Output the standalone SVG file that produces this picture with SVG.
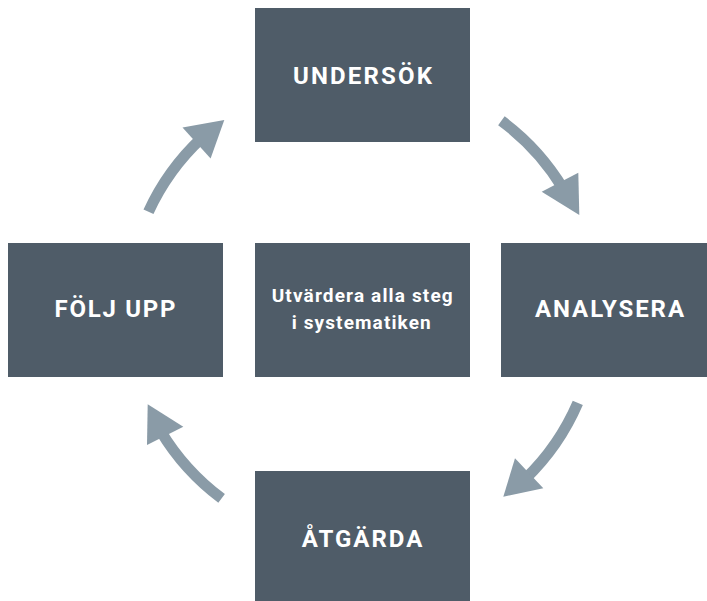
<svg xmlns="http://www.w3.org/2000/svg" width="707" height="601" viewBox="0 0 707 601">
<style>
.box{fill:#4f5c68}
.lbl{fill:#ffffff;font-family:Roboto,"Liberation Sans",sans-serif;font-weight:bold;font-size:24px;text-anchor:middle}
.sm{font-size:19px}
.shaft{fill:none;stroke:#8a9ba7;stroke-width:11}
.head{fill:#8a9ba7}
</style>
<rect width="707" height="601" fill="#ffffff"/>
<g id="connectors">
<path class="shaft" d="M148.5,211.8 A235,235 0 0,1 201.7,138.1"/>
<polygon class="head" points="224.3,120 182.5,127.5 210.6,158.6"/>
<path class="shaft" d="M501.4,120.8 A235,235 0 0,1 563.4,189"/>
<polygon class="head" points="579.3,215 541.7,191.7 578.3,172.7"/>
<path class="shaft" d="M577.8,402.9 A235,235 0 0,1 525.2,479"/>
<polygon class="head" points="503.3,496.7 515,458.3 543.3,488.3"/>
<path class="shaft" d="M221.6,498.4 A235,235 0 0,1 160.6,431"/>
<polygon class="head" points="147.7,404.3 183.3,426.7 147,445"/>
</g>
<g id="undersok">
<rect class="box" x="255" y="8" width="215" height="134"/>
<text class="lbl" x="362.5" y="84" textLength="139" lengthAdjust="spacing">UNDERSÖK</text>
</g>
<g id="folj-upp">
<rect class="box" x="8" y="243" width="215" height="134"/>
<text class="lbl" x="115" y="317" textLength="121" lengthAdjust="spacing">FÖLJ UPP</text>
</g>
<g id="utvardera">
<rect class="box" x="255" y="243" width="215" height="134"/>
<text class="lbl sm" x="362.2" y="302" textLength="181" lengthAdjust="spacing">Utvärdera alla steg</text>
<text class="lbl sm" x="361.2" y="329" textLength="139" lengthAdjust="spacing">i systematiken</text>
</g>
<g id="analysera">
<rect class="box" x="501" y="243" width="215" height="134"/>
<text class="lbl" x="609.5" y="317" textLength="149" lengthAdjust="spacing">ANALYSERA</text>
</g>
<g id="atgarda">
<rect class="box" x="255" y="471" width="215" height="134"/>
<text class="lbl" x="362" y="546.7" textLength="120.6" lengthAdjust="spacing">ÅTGÄRDA</text>
</g>
</svg>
